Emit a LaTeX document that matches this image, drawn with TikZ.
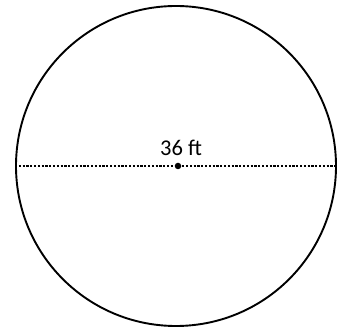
\documentclass[tikz,border=0pt]{standalone}
\usepackage{fontspec}
\setmainfont{Carlito}
\usepackage{tikz}
\usetikzlibrary{positioning, calc}

\begin{document}
\begin{tikzpicture}[
  x=1pt, y=1pt,
  disk/.style={draw, circle, line width=1.9pt, minimum size=320pt,
    inner sep=0pt},
  diam/.style={line width=1.7pt, dash pattern=on 2.2pt off 1.6pt},
  ctr/.style={fill, circle, inner sep=0pt, minimum size=6.5pt},
  lbl/.style={font=\fontsize{22.5}{26}\selectfont, anchor=base}
]
  \useasboundingbox (0, 0) rectangle (351, 329);

  % Circle
  \node[disk] (c) at (176, 163) {};

  % Diameter
  \draw[diam] (c.west) -- (c.east);

  % Center point
  \node[ctr] (o) at (178, 163) {};

  % Label
  \node[lbl] (d) at (181, 173) {36 ft};
\end{tikzpicture}
\end{document}
